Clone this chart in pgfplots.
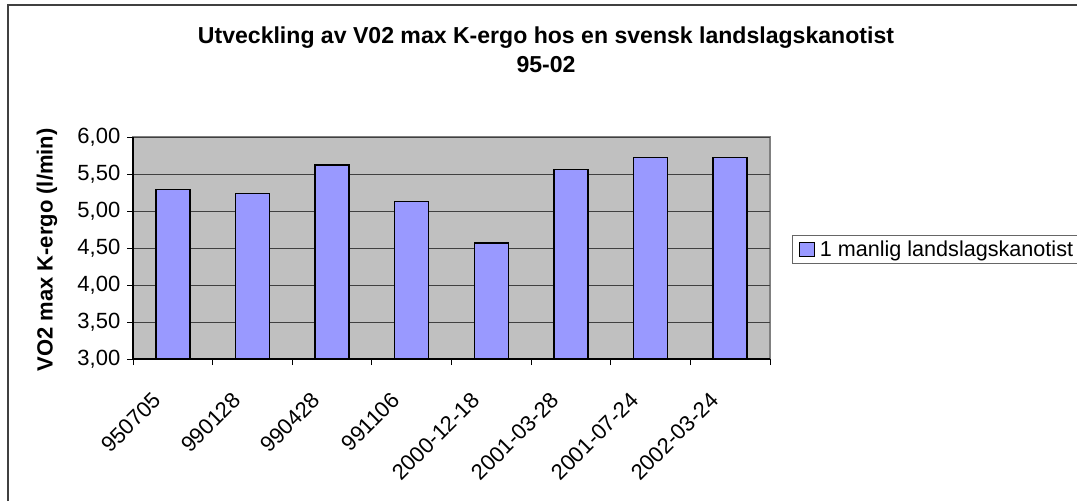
\documentclass[border=0pt]{standalone}
\usepackage{pgfplots}
\pgfplotsset{compat=1.18}
\usepackage{fontspec}
\setmainfont{Liberation Sans}
\definecolor{plotgray}{HTML}{C0C0C0}
\definecolor{barblue}{HTML}{9999FF}
\begin{document}
\begin{tikzpicture}[x=0.75pt,y=0.75pt]
\path[use as bounding box] (0,0) rectangle (1077,501);
\draw[line width=1.1pt, color=black!75] (8,0) -- (8,496) -- (1077,496);
\node[font=\bfseries\fontsize{17.3}{20}\selectfont, anchor=base] at (546,457) {Utveckling av V02 max K-ergo hos en svensk landslagskanotist};
\node[font=\bfseries\fontsize{17.3}{20}\selectfont, anchor=base] at (546,428) {95-02};
\node[rotate=90, font=\bfseries\fontsize{16.5}{20}\selectfont] at (47,251) {VO2 max K-ergo (l/min)};
\begin{axis}[
  at={(99.75pt,106.5pt)}, anchor=south west,
  scale only axis, width=477.75pt, height=166.5pt,
  xmin=-0.5, xmax=7.5, ymin=3, ymax=6,
  axis background/.style={fill=plotgray, draw=black!50, line width=0.9pt},
  axis x line*=bottom, axis y line*=left,
  axis line style={black, line width=0.9pt},
  xtick={0,...,7},
  xticklabels={950705,990128,990428,991106,2000-12-18,2001-03-28,2001-07-24,2002-03-24},
  minor xtick={-0.5,0.5,...,7.5},
  ytick={3,3.5,4,4.5,5,5.5,6},
  minor ytick={3,3.5,4,4.5,5,5.5,6},
  major tick length=0pt, minor tick length=4.5pt,
  tick align=outside,
  tick style={black, line width=0.75pt},
  ymajorgrids, grid style={black!75, line width=0.75pt},
  yticklabel={\pgfmathprintnumber[fixed,fixed zerofill,precision=2,use comma,assume math mode=true]{\tick}},
  yticklabel style={font=\fontsize{16.5}{20}\selectfont, xshift=-6pt},
  xticklabel style={font=\fontsize{16.5}{19}\selectfont, xshift=-16pt, yshift=-19pt, rotate=45, anchor=north east},
  legend style={at={(axis description cs:1.0345,0.493)}, anchor=west, draw=black!60, line width=0.75pt,
    font=\fontsize{16.2}{19}\selectfont, inner xsep=5pt, inner ysep=2pt},
  legend image code/.code={\path[draw=none,fill=none] (0pt,0pt) -- (13pt,0pt); \draw[fill=barblue, draw=black, line width=1pt] (0pt,-5.4pt) rectangle (11pt,5.4pt);},
]
\addplot[ybar, bar width=25.5pt, fill=barblue, draw=black, line width=1.1pt]
  coordinates {(0,5.29) (1,5.24) (2,5.62) (3,5.13) (4,4.57) (5,5.56) (6,5.72) (7,5.72)};
\addlegendentry{1 manlig landslagskanotist}
\end{axis}
\end{tikzpicture}
\end{document}
